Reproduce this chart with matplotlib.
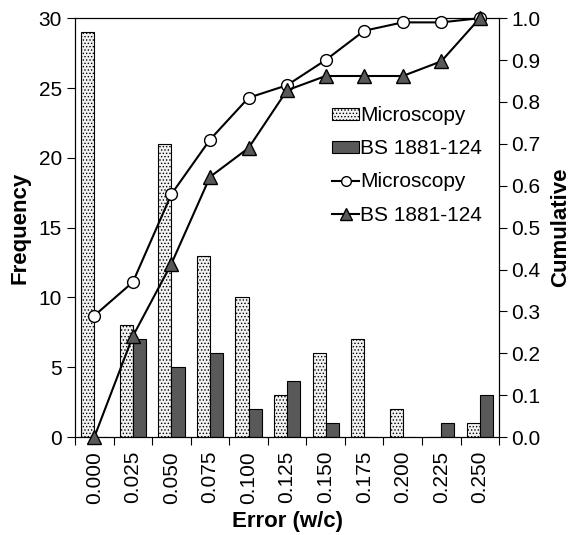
import numpy as np
import matplotlib.pyplot as plt
from matplotlib.patches import Patch
from matplotlib.lines import Line2D

plt.rcParams['font.family'] = ['Liberation Sans', 'DejaVu Sans']
plt.rcParams['hatch.color'] = '#909090'
plt.rcParams['hatch.linewidth'] = 0.6

errors = ['0.000', '0.025', '0.050', '0.075', '0.100', '0.125',
          '0.150', '0.175', '0.200', '0.225', '0.250']
freq_micro = [29, 8, 21, 13, 10, 3, 6, 7, 2, 0, 1]
freq_bs = [0, 7, 5, 6, 2, 4, 1, 0, 0, 1, 3]
cum_micro = [0.29, 0.37, 0.58, 0.71, 0.81, 0.84, 0.90, 0.97, 0.99, 0.99, 1.00]
cum_bs = [0.0, 0.241, 0.414, 0.621, 0.690, 0.828, 0.862, 0.862, 0.862, 0.897, 1.00]

fig = plt.figure(figsize=(5.73, 5.35), dpi=100)
ax = fig.add_axes([0.131, 0.183, 0.740, 0.783])
x = np.arange(len(errors))
w = 0.34

ax.bar(x - w / 2, freq_micro, w, facecolor='#f2f2f2', edgecolor='black',
       linewidth=0.8, hatch='.....', zorder=2)
ax.bar(x + w / 2, freq_bs, w, facecolor='#595959', edgecolor='black',
       linewidth=0.8, zorder=2)

ax.set_xlim(-0.5, len(errors) - 0.5)
ax.set_ylim(0, 30)
ax.set_yticks(range(0, 31, 5))
ax.set_xticks(np.arange(-0.5, len(errors), 1.0))
ax.set_xticklabels([])
ax.set_xticks(x, minor=True)
ax.set_xticklabels(errors, minor=True, rotation=90, fontsize=15)
ax.tick_params(axis='x', which='major', direction='out', length=6, width=0.8)
ax.tick_params(axis='x', which='minor', length=0, pad=10)
ax.tick_params(axis='y', direction='out', length=6, width=0.8, labelsize=15)
ax.set_ylabel('Frequency', fontsize=16, fontweight='bold', labelpad=6)
ax.set_xlabel('Error (w/c)', fontsize=16, fontweight='bold', labelpad=5)

ax2 = ax.twinx()
ax2.plot(x, cum_micro, color='black', lw=1.5, marker='o', ms=8.5,
         mfc='white', mec='black', mew=1.0, clip_on=False, zorder=3)
ax2.plot(x, cum_bs, color='black', lw=1.5, marker='^', ms=10,
         mfc='#595959', mec='black', mew=1.0, clip_on=False, zorder=3)
ax2.set_ylim(0, 1.0)
ax2.set_yticks(np.arange(0, 1.01, 0.1))
ax2.set_yticklabels(['%.1f' % v for v in np.arange(0, 1.01, 0.1)])
ax2.tick_params(axis='y', direction='out', length=6, width=0.8, labelsize=15, pad=3)
ax2.set_ylabel('Cumulative', fontsize=16, fontweight='bold', labelpad=7)

for a in (ax, ax2):
    for s in a.spines.values():
        s.set_linewidth(0.8)

handles = [
    Patch(facecolor='#f2f2f2', edgecolor='black', hatch='.....', lw=0.8),
    Patch(facecolor='#595959', edgecolor='black', lw=0.8),
    Line2D([], [], color='black', lw=1.5, marker='o', ms=7, mfc='white', mec='black'),
    Line2D([], [], color='black', lw=1.5, marker='^', ms=8, mfc='#595959', mec='black'),
]
labels = ['Microscopy', 'BS 1881-124', 'Microscopy', 'BS 1881-124']
ax2.legend(handles, labels, loc='upper right', bbox_to_anchor=(0.96, 0.79),
           frameon=False, fontsize=15, handlelength=1.3, handleheight=0.5,
           handletextpad=0.05, labelspacing=0.68, borderaxespad=0, borderpad=0)

fig.savefig('out.png', dpi=100)
